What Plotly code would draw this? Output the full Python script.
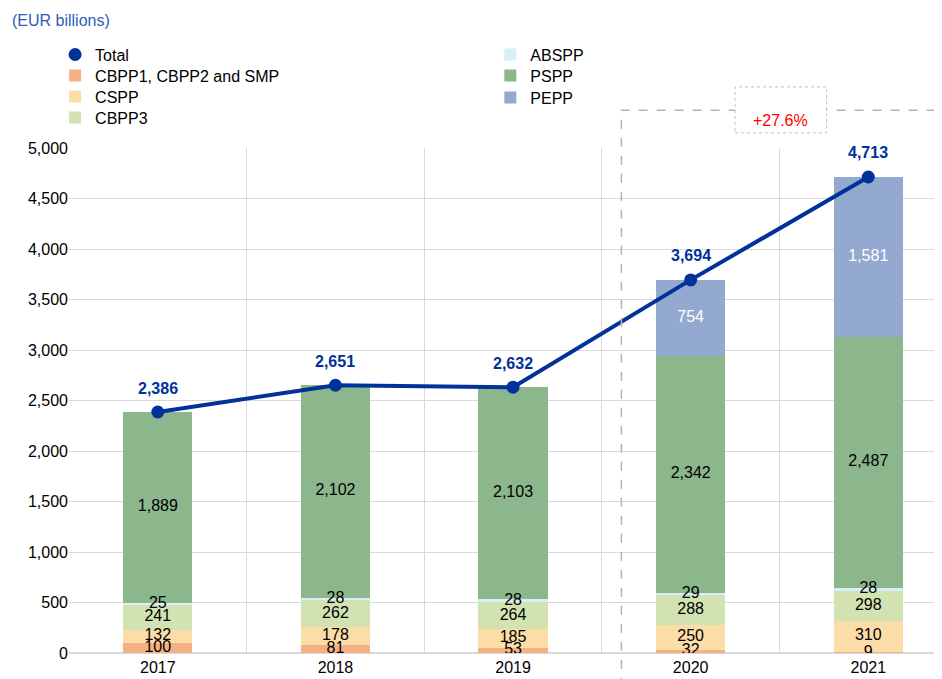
import plotly.graph_objects as go

years = ["2017", "2018", "2019", "2020", "2021"]
cbpp12_smp = [100, 81, 53, 32, 9]
cspp = [132, 178, 185, 250, 310]
cbpp3 = [241, 262, 264, 288, 298]
abspp = [25, 28, 28, 29, 28]
pspp = [1889, 2102, 2103, 2342, 2487]
pepp = [0, 0, 0, 754, 1581]
total = [2386, 2651, 2632, 3694, 4713]
growth_label = "+27.6%"

series = [
    ("CBPP1, CBPP2 and SMP", cbpp12_smp, "#F4B183", "black"),
    ("CSPP", cspp, "#FCDCA7", "black"),
    ("CBPP3", cbpp3, "#D2E2B1", "black"),
    ("ABSPP", abspp, "#D8EEF8", "black"),
    ("PSPP", pspp, "#8CB68B", "black"),
    ("PEPP", pepp, "#93A9D0", "white"),
]

blue = "#003299"
font = "Liberation Sans, Arial, sans-serif"
fs = 16

# one legend per entry so the rows sit where the reference puts them
# (x px, y px of the row centre) for Total + the six programmes
legend_rows = [(0.05, 55), (0.05, 76), (0.05, 97), (0.05, 118),
               (0.512, 55), (0.512, 76), (0.512, 98)]
legend_ids = ["legend"] + [f"legend{k}" for k in range(2, 8)]

fig = go.Figure()

# legend-only marker for the total
fig.add_trace(go.Scatter(x=[None], y=[None], mode="markers", name="Total",
                         marker=dict(color=blue, size=13), legend=legend_ids[0]))

base = [0] * len(years)
label_x, label_y, label_t, label_c = [], [], [], []
for k, (name, vals, color, tcolor) in enumerate(series):
    fig.add_trace(go.Bar(x=years, y=vals, name=name, marker_color=color,
                         marker_line_width=0, width=0.39, legend=legend_ids[k + 1],
                         hoverinfo="skip"))
    for i, v in enumerate(vals):
        if v > 0:
            label_x.append(years[i])
            label_y.append(base[i] + v / 2)
            label_t.append(f"{v:,}")
            label_c.append(tcolor)
    base = [b + v for b, v in zip(base, vals)]

fig.add_trace(go.Scatter(x=label_x, y=label_y, text=label_t, mode="text",
                         textfont=dict(color=label_c, size=fs, family=font),
                         showlegend=False, hoverinfo="skip"))

fig.add_trace(go.Scatter(x=years, y=total, mode="lines+markers", showlegend=False,
                         line=dict(color=blue, width=4),
                         marker=dict(color=blue, size=13)))

# category axes take the category index for annotations
for i, t in enumerate(total):
    fig.add_annotation(x=i, y=t, text=f"<b>{t:,}</b>", showarrow=False,
                       yshift=24, font=dict(color=blue, size=fs, family=font))

# dashed highlight box around 2020-2021
fig.add_shape(type="rect", xref="x", yref="paper", x0=2.61, x1=4.38, y0=-0.12, y1=1.075,
              line=dict(color="#b3b3b3", width=1.5, dash="dash"), fillcolor="rgba(0,0,0,0)")
fig.add_shape(type="rect", xref="x", yref="paper", x0=3.25, x1=3.765, y0=1.03, y1=1.121,
              line=dict(color="#bfbfbf", width=1, dash="dot"), fillcolor="white")
fig.add_annotation(x=3.508, y=1.075, xref="x", yref="paper", text=growth_label,
                   showarrow=False, font=dict(color="#FF0000", size=fs, family=font))

fig.add_annotation(x=-0.067, y=1.253, xref="paper", yref="paper", text="(EUR billions)",
                   xanchor="left", yanchor="middle", showarrow=False,
                   font=dict(color="#2E5CB8", size=fs, family=font))

legends = {}
for lid, (lx, ly) in zip(legend_ids, legend_rows):
    legends[lid] = dict(xref="container", yref="container", x=lx,
                        y=1 - (ly - 25.4) / 679, xanchor="left", yanchor="top",
                        bgcolor="rgba(0,0,0,0)", font=dict(size=fs))

fig.update_layout(
    width=942, height=679,
    barmode="stack",
    plot_bgcolor="white", paper_bgcolor="white",
    font=dict(family=font, size=fs, color="black"),
    margin=dict(l=61, r=0, t=140, b=34, autoexpand=False),
    showlegend=True,
    **legends,
)
fig.update_xaxes(type="category", range=[-0.5, 4.46], tickson="boundaries",
                 showgrid=True, gridcolor="#d9d9d9", ticks="", showline=True,
                 linecolor="#d9d9d9", tickfont=dict(size=fs), tickangle=0)
fig.update_yaxes(range=[0, 5000], dtick=500, tickformat=",", showgrid=True,
                 gridcolor="#d9d9d9", zeroline=True, zerolinecolor="#d9d9d9",
                 ticks="", tickfont=dict(size=fs))

fig.write_html("out.html")
